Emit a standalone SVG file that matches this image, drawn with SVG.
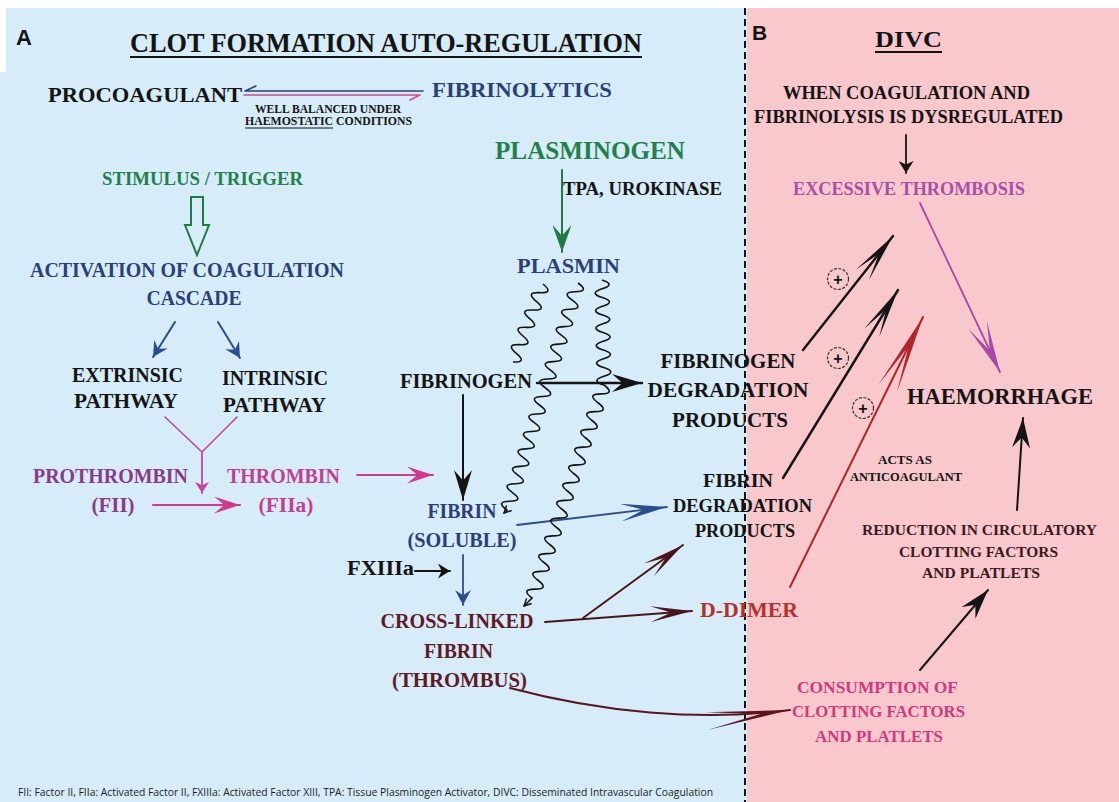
<svg xmlns="http://www.w3.org/2000/svg" width="1119" height="802" viewBox="0 0 1119 802">
<defs>
<style>
.t{font-family:"Liberation Serif","Times New Roman",serif;font-weight:bold;}
.sans{font-family:"Liberation Sans",Arial,sans-serif;font-weight:bold;}
.ft{font-family:"Open Sans","Liberation Sans",sans-serif;font-size:10px;fill:#222;}
.k{fill:#141414}
.nv{fill:#2b4079}
.gr{fill:#23804c}
.pth{fill:#8b3a86}
.thr{fill:#c2418f}
.cl{fill:#5e1a26}
.dd{fill:#b3322c}
.pu{fill:#a452a8}
.cs{fill:#d0397f}
.rd{fill:#3d1822}
.ln{fill:none;stroke-linecap:round;stroke-linejoin:round}
.sq{fill:none;stroke:#141414;stroke-width:1.6}
</style>
<marker id="mBk" viewBox="0 0 10 10" refX="10" refY="5" markerWidth="30" markerHeight="18" markerUnits="userSpaceOnUse" orient="auto" preserveAspectRatio="none"><path d="M0,0 L10,5 L0,10 L3.5,5 z" fill="#141414"/></marker>
<marker id="mBkS" viewBox="0 0 10 10" refX="10" refY="5" markerWidth="12" markerHeight="15" markerUnits="userSpaceOnUse" orient="auto" preserveAspectRatio="none"><path d="M0,0 L10,5 L0,10 L3,5 z" fill="#141414"/></marker>
<marker id="mBkF" viewBox="0 0 10 10" refX="10" refY="5" markerWidth="50" markerHeight="17" markerUnits="userSpaceOnUse" orient="auto" preserveAspectRatio="none"><path d="M0,0 L10,5 L0,10 L5.5,5 z" fill="#141414"/></marker>
<marker id="mRed" viewBox="0 0 10 10" refX="10" refY="5" markerWidth="80" markerHeight="20" markerUnits="userSpaceOnUse" orient="auto" preserveAspectRatio="none"><path d="M0,0 L10,5 L0,10 L6,5 z" fill="#b0262a"/></marker>
<marker id="mPu" viewBox="0 0 10 10" refX="10" refY="5" markerWidth="52" markerHeight="20" markerUnits="userSpaceOnUse" orient="auto" preserveAspectRatio="none"><path d="M0,0 L10,5 L0,10 L5.5,5 z" fill="#a44aa8"/></marker>
<marker id="mBlL" viewBox="0 0 10 10" refX="10" refY="5" markerWidth="47" markerHeight="18" markerUnits="userSpaceOnUse" orient="auto" preserveAspectRatio="none"><path d="M0,0 L10,5 L0,10 L5,5 z" fill="#2c4c8e"/></marker>
<marker id="mBlS" viewBox="0 0 10 10" refX="10" refY="5" markerWidth="15" markerHeight="16" markerUnits="userSpaceOnUse" orient="auto" preserveAspectRatio="none"><path d="M0,0 L10,5 L0,10 L3.5,5 z" fill="#2c4c8e"/></marker>
<marker id="mGr" viewBox="0 0 10 10" refX="10" refY="5" markerWidth="27" markerHeight="19" markerUnits="userSpaceOnUse" orient="auto" preserveAspectRatio="none"><path d="M0,0 L10,5 L0,10 L4,5 z" fill="#1f7a44"/></marker>
<marker id="mPk" viewBox="0 0 10 10" refX="10" refY="5" markerWidth="26" markerHeight="17" markerUnits="userSpaceOnUse" orient="auto" preserveAspectRatio="none"><path d="M0,0 L10,5 L0,10 L4,5 z" fill="#d2398a"/></marker>
<marker id="mPkS" viewBox="0 0 10 10" refX="10" refY="5" markerWidth="11" markerHeight="14" markerUnits="userSpaceOnUse" orient="auto" preserveAspectRatio="none"><path d="M0,0 L10,5 L0,10 L3,5 z" fill="#c4449c"/></marker>
<marker id="mBr" viewBox="0 0 10 10" refX="10" refY="5" markerWidth="42" markerHeight="16" markerUnits="userSpaceOnUse" orient="auto" preserveAspectRatio="none"><path d="M0,0 L10,5 L0,10 L5,5 z" fill="#4a1519"/></marker>
<marker id="mBrC" viewBox="0 0 10 10" refX="10" refY="5" markerWidth="85" markerHeight="18" markerUnits="userSpaceOnUse" orient="auto" preserveAspectRatio="none"><path d="M0,0 L10,5 L0,10 L6.5,5 z" fill="#5a1520"/></marker>
<marker id="mCh" viewBox="0 0 10 10" refX="9" refY="5" markerWidth="9" markerHeight="9" markerUnits="userSpaceOnUse" orient="auto"><path d="M1,1 L9,5 L1,9" fill="none" stroke="#141414" stroke-width="1.6"/></marker>
</defs>

<g id="background">
<rect x="0" y="0" width="1119" height="802" fill="#ffffff"/>
<rect x="6" y="8" width="741" height="794" fill="#d6ecf8"/>
<rect x="0" y="72" width="6" height="730" fill="#d6ecf8"/>
<rect x="747" y="8" width="372" height="794" fill="#f8c8cc"/>
<line x1="745" y1="8" x2="745" y2="802" stroke="#141414" stroke-width="2" stroke-dasharray="7,4"/>
</g>

<g id="panel-a-header">
<text class="sans k" x="16" y="45" font-size="22">A</text>
<text class="t k" x="386" y="52" font-size="28" text-anchor="middle" textLength="512" lengthAdjust="spacingAndGlyphs">CLOT FORMATION AUTO-REGULATION</text>
<line x1="130" y1="57" x2="642" y2="57" stroke="#141414" stroke-width="2"/>
</g>
<g id="panel-b-header">
<text class="sans k" x="752" y="40" font-size="21">B</text>
<text class="t k" x="908.5" y="47" font-size="24" text-anchor="middle" textLength="67" lengthAdjust="spacingAndGlyphs">DIVC</text>
<line x1="875" y1="52" x2="942" y2="52" stroke="#141414" stroke-width="2"/>
</g>

<g id="procoagulant"><text class="t k" x="48" y="102" font-size="22" textLength="194" lengthAdjust="spacingAndGlyphs">PROCOAGULANT</text></g>
<g id="fibrinolytics"><text class="t nv" x="432" y="97" font-size="22" textLength="180" lengthAdjust="spacingAndGlyphs">FIBRINOLYTICS</text></g>
<g id="balance-note">
<text class="t k" x="328" y="113" font-size="11.5" text-anchor="middle" textLength="146" lengthAdjust="spacingAndGlyphs">WELL BALANCED UNDER</text>
<text class="t k" x="245" y="125" font-size="11.5" textLength="167" lengthAdjust="spacingAndGlyphs">HAEMOSTATIC CONDITIONS</text>
<line x1="245" y1="128" x2="333" y2="128" stroke="#141414" stroke-width="1"/>
</g>
<g id="plasminogen"><text class="t gr" x="495" y="159" font-size="25" textLength="190" lengthAdjust="spacingAndGlyphs">PLASMINOGEN</text></g>
<g id="tpa"><text class="t k" x="563" y="195" font-size="18" textLength="159" lengthAdjust="spacingAndGlyphs">TPA, UROKINASE</text></g>
<g id="plasmin"><text class="t nv" x="517" y="273" font-size="22" textLength="103" lengthAdjust="spacingAndGlyphs">PLASMIN</text></g>
<g id="stimulus"><text class="t gr" x="102" y="185" font-size="18.5" textLength="201" lengthAdjust="spacingAndGlyphs">STIMULUS / TRIGGER</text></g>
<g id="activation">
<text class="t nv" x="30" y="277" font-size="20" textLength="314" lengthAdjust="spacingAndGlyphs">ACTIVATION OF COAGULATION</text>
<text class="t nv" x="194" y="305" font-size="20" text-anchor="middle" textLength="95" lengthAdjust="spacingAndGlyphs">CASCADE</text>
</g>
<g id="extrinsic">
<text class="t k" x="72" y="382" font-size="20" textLength="111" lengthAdjust="spacingAndGlyphs">EXTRINSIC</text>
<text class="t k" x="126" y="408" font-size="20" text-anchor="middle" textLength="104" lengthAdjust="spacingAndGlyphs">PATHWAY</text>
</g>
<g id="intrinsic">
<text class="t k" x="222" y="385" font-size="20" textLength="106" lengthAdjust="spacingAndGlyphs">INTRINSIC</text>
<text class="t k" x="274.5" y="412" font-size="20" text-anchor="middle" textLength="103" lengthAdjust="spacingAndGlyphs">PATHWAY</text>
</g>
<g id="prothrombin">
<text class="t pth" x="33" y="483" font-size="20" textLength="155" lengthAdjust="spacingAndGlyphs">PROTHROMBIN</text>
<text class="t pth" x="113" y="512" font-size="20" text-anchor="middle" textLength="43" lengthAdjust="spacingAndGlyphs">(FII)</text>
</g>
<g id="thrombin">
<text class="t thr" x="227" y="483" font-size="20" textLength="113" lengthAdjust="spacingAndGlyphs">THROMBIN</text>
<text class="t thr" x="286" y="512" font-size="20" text-anchor="middle" textLength="55" lengthAdjust="spacingAndGlyphs">(FIIa)</text>
</g>
<g id="fibrinogen"><text class="t k" x="400" y="388" font-size="20" textLength="132" lengthAdjust="spacingAndGlyphs">FIBRINOGEN</text></g>
<g id="fgdp">
<text class="t k" x="728" y="368" font-size="21" text-anchor="middle" textLength="135" lengthAdjust="spacingAndGlyphs">FIBRINOGEN</text>
<text class="t k" x="728" y="397" font-size="21" text-anchor="middle" textLength="161" lengthAdjust="spacingAndGlyphs">DEGRADATION</text>
<text class="t k" x="730" y="427" font-size="21" text-anchor="middle" textLength="116" lengthAdjust="spacingAndGlyphs">PRODUCTS</text>
</g>
<g id="fibrin-soluble">
<text class="t nv" x="462" y="518" font-size="20" text-anchor="middle" textLength="69" lengthAdjust="spacingAndGlyphs">FIBRIN</text>
<text class="t nv" x="462" y="547" font-size="20" text-anchor="middle" textLength="109" lengthAdjust="spacingAndGlyphs">(SOLUBLE)</text>
</g>
<g id="fdp">
<text class="t k" x="738" y="487" font-size="19" text-anchor="middle" textLength="70" lengthAdjust="spacingAndGlyphs">FIBRIN</text>
<text class="t k" x="742.5" y="512" font-size="19" text-anchor="middle" textLength="139" lengthAdjust="spacingAndGlyphs">DEGRADATION</text>
<text class="t k" x="745" y="537" font-size="19" text-anchor="middle" textLength="100" lengthAdjust="spacingAndGlyphs">PRODUCTS</text>
</g>
<g id="fxiiia"><text class="t k" x="347" y="575" font-size="20" textLength="67" lengthAdjust="spacingAndGlyphs">FXIIIa</text></g>
<g id="cross-linked">
<text class="t cl" x="457" y="628" font-size="20" text-anchor="middle" textLength="153" lengthAdjust="spacingAndGlyphs">CROSS-LINKED</text>
<text class="t cl" x="458.5" y="658" font-size="20" text-anchor="middle" textLength="69" lengthAdjust="spacingAndGlyphs">FIBRIN</text>
<text class="t cl" x="459.5" y="687" font-size="20" text-anchor="middle" textLength="135" lengthAdjust="spacingAndGlyphs">(THROMBUS)</text>
</g>
<g id="d-dimer"><text class="t dd" x="700" y="617" font-size="21" textLength="98" lengthAdjust="spacingAndGlyphs">D-DIMER</text></g>
<g id="consumption">
<text class="t cs" x="877.5" y="693" font-size="17.5" text-anchor="middle" textLength="161" lengthAdjust="spacingAndGlyphs">CONSUMPTION OF</text>
<text class="t cs" x="878.5" y="717" font-size="17.5" text-anchor="middle" textLength="173" lengthAdjust="spacingAndGlyphs">CLOTTING FACTORS</text>
<text class="t cs" x="879" y="742" font-size="17.5" text-anchor="middle" textLength="128" lengthAdjust="spacingAndGlyphs">AND PLATLETS</text>
</g>
<g id="reduction">
<text class="t rd" x="979.5" y="535" font-size="15" text-anchor="middle" textLength="235" lengthAdjust="spacingAndGlyphs">REDUCTION IN CIRCULATORY</text>
<text class="t rd" x="978.5" y="557" font-size="15" text-anchor="middle" textLength="159" lengthAdjust="spacingAndGlyphs">CLOTTING FACTORS</text>
<text class="t rd" x="981" y="578" font-size="15" text-anchor="middle" textLength="118" lengthAdjust="spacingAndGlyphs">AND PLATLETS</text>
</g>
<g id="haemorrhage"><text class="t k" x="907" y="404" font-size="22.5" textLength="186" lengthAdjust="spacingAndGlyphs">HAEMORRHAGE</text></g>
<g id="anticoagulant-note">
<text class="t k" x="905" y="464" font-size="12" text-anchor="middle" textLength="54" lengthAdjust="spacingAndGlyphs">ACTS AS</text>
<text class="t k" x="906" y="481" font-size="12" text-anchor="middle" textLength="112" lengthAdjust="spacingAndGlyphs">ANTICOAGULANT</text>
</g>
<g id="dysregulated">
<text class="t k" x="906.5" y="99" font-size="18" text-anchor="middle" textLength="247" lengthAdjust="spacingAndGlyphs">WHEN COAGULATION AND</text>
<text class="t k" x="908.5" y="123" font-size="18" text-anchor="middle" textLength="309" lengthAdjust="spacingAndGlyphs">FIBRINOLYSIS IS DYSREGULATED</text>
</g>
<g id="excessive-thrombosis"><text class="t pu" x="793" y="195" font-size="18" textLength="232" lengthAdjust="spacingAndGlyphs">EXCESSIVE THROMBOSIS</text></g>

<g id="connectors">
<path class="ln" d="M245,91 H423 M245,91 L256,86" stroke="#2b4079" stroke-width="1.6"/>
<path class="ln" d="M244,95 H420 M420,95 L410,100" stroke="#d24a8a" stroke-width="1.6"/>
<path class="ln" d="M562,170 V252" stroke="#1f7a44" stroke-width="2" marker-end="url(#mGr)"/>
<polygon points="191,197 203,197 203,225 209,225 197,255 185,225 191,225" fill="none" stroke="#1f7a44" stroke-width="2" stroke-linejoin="miter"/>
<path class="ln" d="M175,322 L153,357" stroke="#2c4c8e" stroke-width="2" marker-end="url(#mBlS)"/>
<path class="ln" d="M218,322 L240,358" stroke="#2c4c8e" stroke-width="2" marker-end="url(#mBlS)"/>
<path class="ln" d="M165,417 L202,452 L237,417" stroke="#c4449c" stroke-width="1.6"/>
<path class="ln" d="M202,452 V493" stroke="#c4449c" stroke-width="1.8" marker-end="url(#mPkS)"/>
<path class="ln" d="M153,505 H240" stroke="#d2398a" stroke-width="2.2" marker-end="url(#mPk)"/>
<path class="ln" d="M357,475 H433" stroke="#d2398a" stroke-width="1.8" marker-end="url(#mPk)"/>
<path class="ln" d="M537,383 H642" stroke="#141414" stroke-width="2.4" marker-end="url(#mBk)"/>
<path class="ln" d="M463,395 V500" stroke="#141414" stroke-width="2" marker-end="url(#mBk)"/>
<path class="ln" d="M517,525 L667,507" stroke="#2c4c8e" stroke-width="1.8" marker-end="url(#mBlL)"/>
<path class="ln" d="M415,571 H450" stroke="#141414" stroke-width="2" marker-end="url(#mBkS)"/>
<path class="ln" d="M463,555 V605" stroke="#2c4c8e" stroke-width="1.8" marker-end="url(#mBlS)"/>
<path class="ln" d="M545,622 L692,611" stroke="#4a1519" stroke-width="2" marker-end="url(#mBr)"/>
<path class="ln" d="M583,618 L683,545" stroke="#4a1519" stroke-width="2" marker-end="url(#mBr)"/>
<path class="ln" d="M510,688 C600,712 700,722 790,710" stroke="#5a1520" stroke-width="2" marker-end="url(#mBrC)"/>
<path class="ln" d="M920,670 L988,590" stroke="#141414" stroke-width="2" marker-end="url(#mBk)"/>
<path class="ln" d="M1017,510 L1023,418" stroke="#141414" stroke-width="2" marker-end="url(#mBk)"/>
<path class="ln" d="M906,135 V173" stroke="#141414" stroke-width="1.8" marker-end="url(#mBkS)"/>
<path class="ln" d="M920,203 L1000,372" stroke="#a44aa8" stroke-width="1.8" marker-end="url(#mPu)"/>
<path class="ln" d="M803,350 L893,236" stroke="#141414" stroke-width="2.4" marker-end="url(#mBkF)"/>
<path class="ln" d="M783,478 L898,290" stroke="#141414" stroke-width="2.4" marker-end="url(#mBkF)"/>
<path class="ln" d="M790,587 L923,317" stroke="#b0262a" stroke-width="2" marker-end="url(#mRed)"/>
<path class="sq" d="M543,284 q11.4,9.36 -3.333,8.667 t-3.333,8.667 t-3.333,8.667 t-3.333,8.667 t-3.333,8.667 t-3.333,8.667 t-3.333,8.667 t-3.333,8.667 t-3.333,8.667"/>
<path class="sq" d="M578,283 q11.99,8.54 -2.731,8.731 t-2.731,8.731 t-2.731,8.731 t-2.731,8.731 t-2.731,8.731 t-2.731,8.731 t-2.731,8.731 t-2.731,8.731 t-2.731,8.731 t-2.731,8.731 t-2.731,8.731 t-2.731,8.731 t-2.731,8.731 t-2.731,8.731 t-2.731,8.731 t-2.731,8.731 t-2.731,8.731 t-2.731,8.731 t-2.731,8.731 t-2.731,8.731 t-2.731,8.731 t-2.731,8.731 t-2.731,8.731 t-2.731,8.731 t-2.731,8.731 t-2.731,8.731 l-3,3" marker-end="url(#mCh)"/>
<path class="sq" d="M602,280 q14.08,4.375 0.167,8.75 t0.167,8.75 t0.167,8.75 t0.167,8.75 t0.167,8.75 t0.167,8.75 t0.167,8.75 t0.167,8.75 t0.167,8.75 t0.167,8.75 t0.167,8.75 t0.167,8.75 q11.76,8.92 -3,8.875 t-3,8.875 t-3,8.875 t-3,8.875 t-3,8.875 t-3,8.875 t-3,8.875 t-3,8.875 t-3,8.875 t-3,8.875 t-3,8.875 t-3,8.875 t-3,8.875 t-3,8.875 t-3,8.875 t-3,8.875 t-3,8.875 t-3,8.875 t-3,8.875 t-3,8.875 t-3,8.875 t-3,8.875 t-3,8.875 t-3,8.875 l-8,8" marker-end="url(#mCh)"/>
</g>

<g id="plus-signs">
<circle cx="838" cy="279" r="10.5" fill="none" stroke="#333" stroke-width="1.2" stroke-dasharray="3,1.5"/>
<text class="sans k" x="838" y="285" font-size="16" font-weight="normal" text-anchor="middle">+</text>
<circle cx="838" cy="358" r="10.5" fill="none" stroke="#333" stroke-width="1.2" stroke-dasharray="3,1.5"/>
<text class="sans k" x="838" y="364" font-size="16" font-weight="normal" text-anchor="middle">+</text>
<circle cx="863" cy="408" r="10.5" fill="none" stroke="#333" stroke-width="1.2" stroke-dasharray="3,1.5"/>
<text class="sans k" x="863" y="414" font-size="16" font-weight="normal" text-anchor="middle">+</text>
</g>

<g id="footer"><text class="ft" x="18" y="796" textLength="695" lengthAdjust="spacingAndGlyphs">FII: Factor II, FIIa: Activated Factor II, FXIIIa: Activated Factor XIII, TPA: Tissue Plasminogen Activator, DIVC: Disseminated Intravascular Coagulation</text></g>
</svg>
